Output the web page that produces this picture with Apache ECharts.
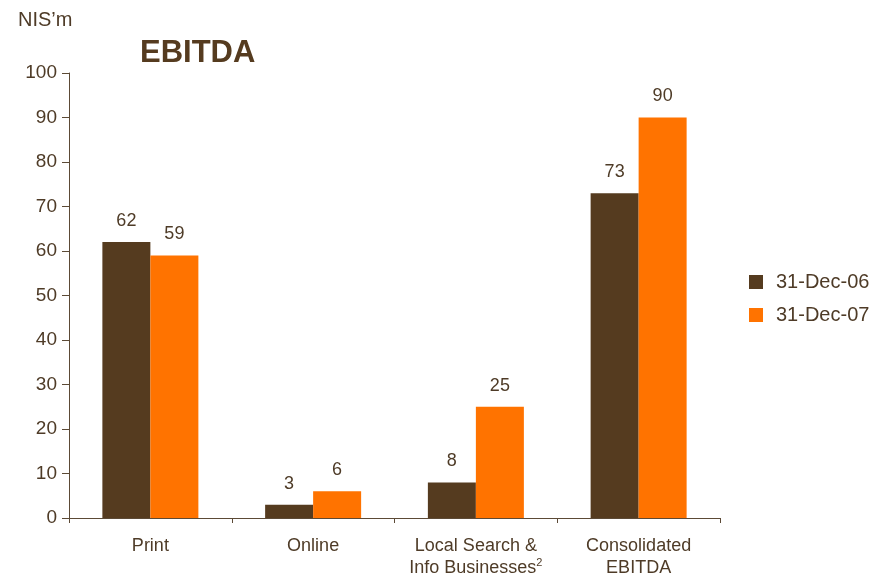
<!DOCTYPE html>
<html>
<head>
<meta charset="utf-8">
<script src="https://cdn.jsdelivr.net/npm/echarts@6/dist/echarts.min.js"></script>
<style>
html,body{margin:0;padding:0;background:#fff;}
#chart{width:879px;height:579px;}
</style>
</head>
<body>
<div id="chart"></div>
<script>
// EBITDA by segment, NIS millions
const categories = ['Print', 'Online', 'Local Search &\nInfo Businesses{sup|2}', 'Consolidated\nEBITDA'];
const seriesNames = ['31-Dec-06', '31-Dec-07'];
const dec06 = [62, 3, 8, 73];
const dec07 = [59, 6, 25, 90];
const yTicks = [0, 10, 20, 30, 40, 50, 60, 70, 80, 90, 100];

const brown = '#553B1F';
const orange = '#FF7300';
const textColor = '#4E3B27';
const axisColor = '#5C4A36';
const font = 'Liberation Sans, Arial, sans-serif';

const chart = echarts.init(document.getElementById('chart'));
chart.setOption({
  animation: false,
  textStyle: { fontFamily: font },
  graphic: [
    { type: 'text', left: 18, top: 10, style: { text: 'NIS\u2019m', fontSize: 20, fill: textColor, fontFamily: font } },
    { type: 'text', left: 140, top: 38, style: { text: 'EBITDA', fontSize: 31, fontWeight: 'bold', fill: brown, fontFamily: font } }
  ],
  legend: {
    orient: 'vertical',
    left: 749,
    top: 272,
    itemWidth: 14,
    itemHeight: 14,
    itemGap: 13,
    icon: 'rect',
    padding: 0,
    textStyle: { fontSize: 20, color: textColor, fontFamily: font, padding: [0, 0, 0, 8] },
    data: seriesNames
  },
  grid: { left: 69, right: 159, top: 73, bottom: 57, containLabel: false },
  xAxis: {
    type: 'category',
    data: categories,
    axisLine: { lineStyle: { color: axisColor, width: 1 } },
    axisTick: { show: true, alignWithLabel: false, length: 5, lineStyle: { color: axisColor } },
    axisLabel: {
      interval: 0,
      margin: 17,
      fontSize: 18,
      lineHeight: 22,
      color: textColor,
      fontFamily: font,
      rich: { sup: { fontSize: 11, verticalAlign: 'top', color: textColor, padding: [0, 0, 9, 0] } }
    }
  },
  yAxis: {
    type: 'value',
    min: 0,
    max: 100,
    interval: 10,
    splitLine: { show: false },
    axisLine: { show: true, lineStyle: { color: axisColor, width: 1 } },
    axisTick: { show: true, length: 7, lineStyle: { color: axisColor } },
    axisLabel: {
      fontSize: 19,
      color: textColor,
      fontFamily: font,
      margin: 12,
      formatter: v => (yTicks.includes(v) ? String(v) : '')
    }
  },
  series: [
    {
      name: seriesNames[0],
      type: 'bar',
      data: dec06,
      barWidth: 48,
      barGap: '0%',
      itemStyle: { color: brown },
      label: { show: true, position: 'top', distance: 12, fontSize: 18, color: textColor, fontFamily: font }
    },
    {
      name: seriesNames[1],
      type: 'bar',
      data: dec07,
      barWidth: 48,
      barGap: '0%',
      itemStyle: { color: orange },
      label: { show: true, position: 'top', distance: 12, fontSize: 18, color: textColor, fontFamily: font }
    }
  ]
});
</script>
</body>
</html>
